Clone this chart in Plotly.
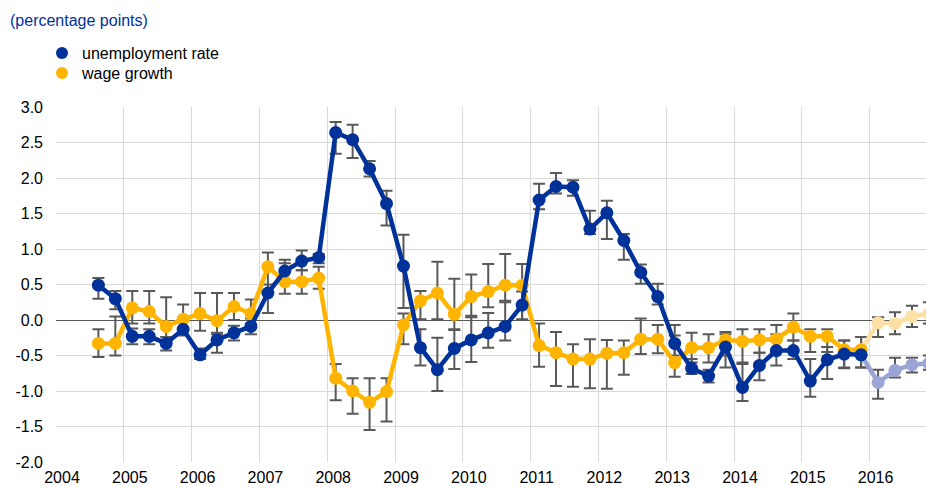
import plotly.graph_objects as go

# ---- data -------------------------------------------------------------
quarters = [f"{y}Q{q}" for y in range(2004, 2017) for q in range(1, 5)][2:52]  # 2004Q3 .. 2016Q4
last_actual = "2015Q4"

unemployment = [0.49, 0.30, -0.23, -0.23, -0.33, -0.13, -0.49, -0.28, -0.18, -0.09,
                0.38, 0.69, 0.83, 0.88, 2.64, 2.54, 2.13, 1.64, 0.76, -0.39,
                -0.70, -0.40, -0.28, -0.18, -0.09, 0.21, 1.69, 1.88, 1.87, 1.28,
                1.51, 1.12, 0.67, 0.33, -0.33, -0.68, -0.79, -0.38, -0.95, -0.64,
                -0.43, -0.43, -0.86, -0.56, -0.48, -0.49, -0.88, -0.71, -0.63, -0.61]
unemp_low = [0.30, 0.15, -0.34, -0.34, -0.43, -0.22, -0.55, -0.46, -0.29, -0.20,
             0.10, 0.55, 0.70, 0.80, 2.34, 2.28, 2.02, 1.33, 0.17, -0.64,
             -1.00, -0.69, -0.59, -0.39, -0.29, 0.00, 1.56, 1.78, 1.75, 1.21,
             1.14, 0.85, 0.51, 0.22, -0.50, -0.76, -0.88, -0.67, -1.14, -0.85,
             -0.64, -0.55, -1.08, -0.83, -0.68, -0.67, -1.11, -0.81, -0.74, -0.70]
unemp_high = [0.59, 0.41, -0.12, -0.13, -0.24, -0.02, -0.40, -0.18, -0.08, 0.02,
              0.50, 0.80, 0.98, 0.93, 2.79, 2.75, 2.24, 1.82, 1.20, -0.13,
              -0.25, -0.14, 0.06, 0.10, 0.25, 0.40, 1.92, 2.07, 1.97, 1.54,
              1.68, 1.21, 0.78, 0.51, -0.07, -0.55, -0.70, -0.20, -0.62, -0.46,
              -0.20, -0.29, -0.55, -0.38, -0.29, -0.24, -0.70, -0.53, -0.53, -0.50]

wage = [-0.33, -0.33, 0.17, 0.12, -0.09, 0.01, 0.09, -0.01, 0.19, 0.09,
        0.75, 0.54, 0.54, 0.59, -0.82, -1.00, -1.16, -1.01, -0.07, 0.27,
        0.38, 0.08, 0.33, 0.40, 0.49, 0.49, -0.36, -0.46, -0.55, -0.55,
        -0.47, -0.46, -0.27, -0.27, -0.60, -0.39, -0.39, -0.28, -0.30, -0.28,
        -0.27, -0.10, -0.23, -0.23, -0.42, -0.42, -0.04, -0.05, 0.05, 0.09]
wage_low = [-0.52, -0.50, -0.05, -0.05, -0.30, -0.15, -0.15, -0.20, 0.00, -0.05,
            0.40, 0.37, 0.37, 0.44, -1.13, -1.32, -1.55, -1.43, -0.34, 0.01,
            0.01, -0.13, 0.04, 0.18, 0.27, 0.01, -0.66, -0.93, -0.94, -0.96,
            -0.97, -0.77, -0.48, -0.47, -0.80, -0.60, -0.60, -0.50, -0.60, -0.46,
            -0.45, -0.29, -0.45, -0.45, -0.67, -0.67, -0.24, -0.20, -0.10, -0.05]
wage_high = [-0.13, 0.05, 0.41, 0.41, 0.32, 0.22, 0.38, 0.38, 0.38, 0.29,
             0.95, 0.85, 0.70, 0.75, -0.62, -0.82, -0.82, -0.82, 0.09, 0.41,
             0.82, 0.58, 0.64, 0.79, 0.93, 0.79, -0.05, -0.17, -0.34, -0.27,
             -0.28, -0.29, 0.02, -0.07, -0.22, -0.18, -0.20, -0.17, -0.13, -0.13,
             -0.07, 0.09, -0.13, -0.13, -0.29, -0.24, 0.04, 0.11, 0.20, 0.25]

year_ticks = list(range(2004, 2017))
y_ticks = [3.0, 2.5, 2.0, 1.5, 1.0, 0.5, 0.0, -0.5, -1.0, -1.5, -2.0]

# ---- helpers ----------------------------------------------------------
def qpos(label):
    y, q = label.split("Q")
    return int(y) + (int(q) - 0.5) / 4

x = [qpos(q) for q in quarters]
split = quarters.index(last_actual)

BLUE = "#003299"
YELLOW = "#ffb400"
BLUE_L = "#9aa5d6"
YELLOW_L = "#fde0a6"
ERR = "#595959"
FONT = "Arial, Liberation Sans, sans-serif"

fig = go.Figure()

def err_trace(vals, lo, hi):
    return go.Scatter(
        x=x, y=vals, mode="markers",
        marker=dict(size=1, color="rgba(0,0,0,0)"),
        error_y=dict(type="data", symmetric=False,
                     array=[h - v for h, v in zip(hi, vals)],
                     arrayminus=[v - l for l, v in zip(lo, vals)],
                     color=ERR, thickness=2, width=6),
        showlegend=False, hoverinfo="skip")

fig.add_trace(err_trace(wage, wage_low, wage_high))
fig.add_trace(err_trace(unemployment, unemp_low, unemp_high))

# projections (faded)
fig.add_trace(go.Scatter(x=x[split:], y=wage[split:], mode="lines+markers",
                         line=dict(color=YELLOW_L, width=4.5),
                         marker=dict(color=YELLOW_L, size=13), showlegend=False))
fig.add_trace(go.Scatter(x=x[split:], y=unemployment[split:], mode="lines+markers",
                         line=dict(color=BLUE_L, width=4.5),
                         marker=dict(color=BLUE_L, size=13), showlegend=False))
# actual
fig.add_trace(go.Scatter(x=x[:split + 1], y=wage[:split + 1], mode="lines+markers",
                         line=dict(color=YELLOW, width=4.5),
                         marker=dict(color=YELLOW, size=13), showlegend=False))
fig.add_trace(go.Scatter(x=x[:split + 1], y=unemployment[:split + 1], mode="lines+markers",
                         line=dict(color=BLUE, width=4.5),
                         marker=dict(color=BLUE, size=13), showlegend=False))

# legend entries (circle only), each in its own legend for exact placement
fig.add_trace(go.Scatter(x=[None], y=[None], mode="markers", name="unemployment rate",
                         marker=dict(color=BLUE, size=14), legend="legend"))
fig.add_trace(go.Scatter(x=[None], y=[None], mode="markers", name="wage growth",
                         marker=dict(color=YELLOW, size=14), legend="legend2"))

leg_common = dict(xref="container", yref="container", xanchor="left", yanchor="middle",
                  bgcolor="rgba(0,0,0,0)", borderwidth=0,
                  font=dict(family=FONT, size=16, color="#000000"), itemsizing="constant")

fig.update_layout(
    width=926, height=487,
    margin=dict(l=56, r=0, t=107, b=25, autoexpand=False),
    paper_bgcolor="white", plot_bgcolor="white",
    font=dict(family=FONT, size=16, color="#000000"),
    title=dict(text="(percentage points)", x=10 / 926, xanchor="left",
               y=1 - 20 / 487, yanchor="middle",
               font=dict(family=FONT, size=16, color=BLUE)),
    legend=dict(x=42 / 926, y=1 - 53 / 487, **leg_common),
    legend2=dict(x=42 / 926, y=1 - 73 / 487, **leg_common),
    xaxis=dict(range=[2004, 2004 + 870 / 67.8], tickmode="array", tickvals=year_ticks,
               ticktext=[str(t) for t in year_ticks], showgrid=True, gridcolor="#d9d9d9",
               gridwidth=1, zeroline=False, showline=False, ticks="",
               ticklabelshift=6, ticklabelstandoff=4, automargin=False,
               tickfont=dict(family=FONT, size=16, color="#000000")),
    yaxis=dict(range=[-2, 3], tickmode="array", tickvals=y_ticks,
               ticktext=[f"{v:.1f}" for v in y_ticks], showgrid=True, gridcolor="#d9d9d9",
               gridwidth=1, zeroline=True, zerolinecolor="#595959", zerolinewidth=1,
               showline=False, ticks="", ticklabelstandoff=12, automargin=False,
               tickfont=dict(family=FONT, size=16, color="#000000")),
    showlegend=True,
)

fig.write_html("out.html", config={"displayModeBar": False},
               post_script="document.body.style.margin='0';document.body.style.overflow='hidden';")
